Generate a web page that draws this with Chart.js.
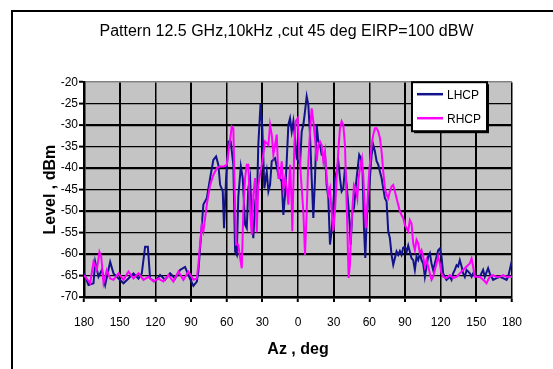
<!DOCTYPE html>
<html>
<head>
<meta charset="utf-8">
<script src="https://cdn.jsdelivr.net/npm/chart.js@4/dist/chart.umd.min.js"></script>
<style>
  html, body { margin: 0; padding: 0; background: #fff; overflow: hidden; }
  #wrap { position: relative; width: 553px; height: 369px; }
  #frame { position: absolute; left: 11px; top: 10px; width: 620px; height: 420px; border: 2px solid #000; box-sizing: border-box; }
  #c { position: absolute; left: 0; top: 0; }
</style>
</head>
<body>
<div id="wrap">
  <div id="frame"></div>
  <canvas id="c" width="553" height="369"></canvas>
</div>
<script>
// Azimuth tick positions (deg) and their printed labels
const azTicks  = [-180, -150, -120, -90, -60, -30, 0, 30, 60, 90, 120, 150, 180];
const azLabels = ['180', '150', '120', '90', '60', '30', '0', '30', '60', '90', '120', '150', '180'];
// Level ticks (dBm)
const levelTicks = [-70, -65, -60, -55, -50, -45, -40, -35, -30, -25, -20];

// LHCP cut: azimuth (deg) and level (dBm)
const lhcpAz = [-180, -176.2, -172.0, -170.6, -167.8, -165.0, -162.2, -158.0, -155.2, -151.0,
  -146.8, -142.6, -138.4, -134.2, -131.4, -128.6, -126.3, -124.4, -120.2, -116.0,
  -111.8, -107.6, -103.4, -99.2, -95.0, -92.2, -88.0, -85.1, -83.8, -80.9,
  -79.6, -76.7, -73.9, -71.2, -68.9, -67.0, -65.5, -63.3, -62.2, -60.5,
  -58.5, -56.6, -54.4, -52.9, -51.5, -50.2, -48.1, -46.5, -44.5, -43.1,
  -41.8, -40.3, -38.9, -37.6, -36.1, -34.7, -33.4, -31.5, -30.0, -28.3,
  -26.3, -24.9, -23.5, -22.1, -19.3, -16.5, -13.7, -12.3, -10.9, -9.5,
  -8.1, -6.7, -5.3, -3.9, -2.5, -1.1, 1.7, 3.1, 4.5, 5.9,
  7.3, 8.7, 10.1, 11.5, 12.9, 14.3, 15.7, 17.1, 18.5, 19.9,
  22.7, 24.1, 25.5, 26.9, 28.3, 29.7, 31.1, 32.5, 33.9, 35.3,
  36.7, 38.1, 39.5, 40.9, 42.3, 43.7, 44.3, 45.7, 47.1, 48.7,
  49.9, 51.5, 52.9, 54.3, 55.5, 56.6, 57.7, 59.1, 60.5, 61.9,
  63.3, 64.7, 66.1, 67.5, 68.9, 70.3, 71.7, 73.1, 74.5, 75.9,
  77.3, 78.7, 80.1, 81.5, 82.9, 84.3, 85.7, 87.1, 88.5, 89.9,
  91.3, 92.7, 94.1, 95.5, 96.9, 98.3, 99.7, 101.1, 102.5, 103.9,
  105.3, 106.7, 108.1, 109.5, 110.9, 112.3, 113.7, 115.1, 116.5, 117.9,
  119.3, 120.7, 122.1, 123.5, 124.9, 127.7, 129.1, 130.5, 131.9, 133.4,
  134.7, 136.1, 137.6, 138.9, 140.3, 141.8, 144.5, 146.0, 147.3, 150.2,
  152.9, 155.7, 157.1, 159.9, 161.3, 164.1, 167.0, 169.7, 172.5, 175.4,
  176.7, 178.1, 180];
const lhcpLevel = [-64.5, -67.2, -66.8, -61.8, -65.3, -63.7, -67.2, -61.8, -64.5, -65.7,
  -66.8, -65.7, -64.5, -65.7, -64.5, -58.3, -58.3, -65.7, -66.4, -64.9,
  -66.0, -64.5, -65.7, -63.7, -63.0, -64.9, -67.4, -66.4, -64.0, -53.2,
  -48.5, -47.0, -42.3, -38.1, -37.3, -39.2, -43.9, -45.4, -54.0, -42.3,
  -33.8, -33.8, -39.2, -59.4, -60.2, -46.6, -39.6, -42.3, -53.2, -54.0,
  -44.7, -42.3, -51.6, -56.3, -48.5, -50.1, -34.6, -25.0, -30.7, -44.7,
  -40.8, -45.4, -43.9, -38.4, -37.7, -41.6, -43.1, -50.9, -46.2, -38.4,
  -29.9, -28.4, -31.5, -29.1, -33.0, -37.7, -39.2, -31.5, -29.9, -26.8,
  -23.3, -25.3, -32.2, -42.3, -51.6, -42.3, -29.9, -33.8, -34.6, -36.9,
  -36.9, -43.9, -47.0, -57.8, -54.7, -48.5, -42.3, -40.8, -38.4, -42.3,
  -45.4, -44.7, -40.0, -43.9, -48.5, -54.0, -57.8, -50.1, -49.3, -43.9,
  -40.8, -36.9, -37.7, -40.8, -54.0, -60.9, -52.4, -47.0, -42.3, -36.9,
  -34.6, -36.1, -38.4, -39.2, -40.8, -42.3, -44.7, -47.0, -47.7, -54.7,
  -56.3, -60.2, -62.5, -60.9, -59.4, -60.2, -59.3, -60.2, -58.5, -58.3,
  -59.5, -58.0, -59.5, -61.0, -61.4, -63.7, -60.6, -61.4, -59.8, -61.4,
  -62.2, -65.3, -62.9, -60.6, -59.8, -62.2, -63.7, -62.2, -60.6, -59.1,
  -58.7, -60.6, -64.5, -65.3, -66.0, -65.3, -66.0, -64.5, -63.7, -62.6,
  -62.9, -61.4, -62.9, -64.5, -65.3, -63.7, -64.5, -65.3, -64.5, -65.3,
  -65.3, -63.7, -65.3, -63.3, -64.5, -66.0, -65.6, -65.3, -65.6, -66.0,
  -65.3, -63.7, -61.4];

// RHCP cut: azimuth (deg) and level (dBm)
const rhcpAz = [-180, -174.8, -172.0, -169.2, -167.0, -165.5, -163.6, -160.8, -158.0, -155.2,
  -151.0, -146.8, -142.6, -138.4, -134.2, -130.0, -125.8, -121.6, -117.4, -113.2,
  -109.0, -104.8, -100.6, -96.4, -92.2, -88.0, -85.1, -83.8, -82.4, -80.9,
  -79.6, -78.1, -76.7, -73.9, -71.2, -68.3, -65.5, -62.2, -59.9, -57.7,
  -55.7, -54.4, -53.5, -52.1, -50.2, -48.7, -47.3, -46.0, -44.5, -43.1,
  -41.8, -40.3, -38.9, -37.6, -36.1, -34.7, -33.4, -30.0, -27.7, -24.9,
  -23.5, -22.1, -20.7, -19.3, -17.9, -16.5, -15.1, -13.7, -12.3, -10.9,
  -9.5, -8.1, -6.7, -5.3, -4.8, -3.1, -1.9, -0.3, 0.8, 2.5,
  4.5, 5.9, 7.3, 8.7, 10.1, 11.5, 12.9, 14.3, 15.7, 17.1,
  18.5, 19.9, 21.3, 22.7, 24.1, 25.5, 26.9, 28.3, 29.7, 31.1,
  32.5, 33.9, 35.3, 36.7, 38.1, 39.5, 40.3, 41.5, 42.6, 43.7,
  44.8, 46.0, 47.1, 48.5, 49.9, 51.0, 52.6, 53.8, 54.9, 56.0,
  57.1, 58.3, 59.9, 61.9, 63.3, 64.7, 66.1, 67.5, 68.9, 70.3,
  71.7, 73.1, 74.5, 75.9, 77.3, 78.7, 80.1, 81.5, 82.9, 84.3,
  85.7, 87.1, 88.5, 89.9, 91.3, 92.7, 94.1, 95.5, 96.9, 98.3,
  99.7, 101.1, 102.5, 103.9, 105.3, 106.7, 108.1, 109.5, 110.9, 112.3,
  113.7, 115.1, 116.5, 117.9, 119.3, 120.7, 122.1, 124.9, 127.7, 130.5,
  133.4, 136.1, 138.9, 141.8, 144.5, 146.0, 147.3, 148.7, 150.2, 152.9,
  155.7, 158.6, 159.9, 161.3, 164.1, 167.0, 169.7, 172.5, 175.4, 178.1,
  180];
const rhcpLevel = [-64.9, -66.8, -61.8, -63.7, -59.5, -60.6, -66.8, -63.7, -65.7, -66.0,
  -64.5, -66.0, -64.1, -65.7, -64.5, -66.0, -65.3, -66.4, -65.7, -66.4,
  -64.9, -66.4, -64.1, -66.0, -64.1, -66.0, -65.7, -62.5, -57.8, -53.2,
  -54.7, -51.6, -48.5, -43.9, -41.6, -40.0, -39.6, -39.6, -39.2, -34.6,
  -30.3, -30.7, -42.3, -57.8, -57.8, -60.9, -63.3, -50.1, -42.3, -39.2,
  -39.2, -50.1, -55.5, -46.2, -42.3, -55.0, -44.0, -38.4, -33.8, -34.6,
  -29.9, -32.2, -36.9, -34.6, -32.2, -42.3, -42.3, -38.4, -44.7, -42.3,
  -44.7, -48.5, -39.2, -48.5, -54.7, -34.6, -29.1, -28.4, -34.6, -42.3,
  -50.1, -60.2, -50.1, -38.4, -31.5, -26.1, -29.1, -33.0, -38.4, -34.6,
  -33.8, -34.6, -38.4, -36.1, -42.3, -46.2, -44.7, -50.1, -54.7, -50.1,
  -42.3, -36.1, -30.7, -29.1, -29.9, -34.6, -42.3, -54.0, -65.6, -62.5,
  -54.0, -48.5, -43.9, -44.7, -47.0, -42.3, -39.2, -37.7, -41.6, -48.5,
  -54.0, -48.5, -40.8, -34.6, -32.2, -30.7, -30.7, -31.5, -33.0, -36.1,
  -40.8, -44.7, -46.2, -47.0, -45.4, -44.3, -43.9, -45.4, -47.0, -48.5,
  -50.1, -50.9, -51.6, -53.2, -54.0, -54.7, -52.1, -52.9, -57.5, -59.1,
  -56.7, -57.5, -59.8, -59.1, -60.6, -62.9, -61.4, -62.9, -64.5, -66.0,
  -65.3, -63.7, -62.2, -60.6, -62.2, -64.5, -65.3, -65.6, -64.9, -65.6,
  -65.3, -64.5, -63.7, -62.9, -62.2, -61.0, -62.9, -65.3, -65.3, -65.3,
  -66.0, -66.8, -66.0, -65.3, -64.9, -65.3, -65.3, -64.9, -65.3, -65.3,
  -65.3];

const toPoints = (xs, ys) => xs.map((x, i) => ({ x, y: ys[i] }));

Chart.defaults.font.family = "'Liberation Sans', Arial, sans-serif";
Chart.defaults.color = '#000';

// Gray plotting area behind the grid
const plotBackground = {
  id: 'plotBackground',
  beforeDraw(chart) {
    const { ctx, chartArea: a } = chart;
    ctx.save();
    ctx.fillStyle = '#c4c4c4';
    ctx.fillRect(a.left, a.top, a.right - a.left, a.bottom - a.top);
    ctx.restore();
  }
};

// Boxed legend in the upper right corner of the plot
const boxLegend = {
  id: 'boxLegend',
  afterDraw(chart) {
    const { ctx, chartArea: a } = chart;
    const w = 75, h = 49;
    const x = a.right - 100, y = a.top;
    ctx.save();
    ctx.fillStyle = '#000';
    ctx.fillRect(x + 2, y + 2, w, h);
    ctx.fillStyle = '#fff';
    ctx.fillRect(x, y, w, h);
    ctx.strokeStyle = '#000';
    ctx.lineWidth = 2;
    ctx.strokeRect(x, y, w, h);
    ctx.font = "12px 'Liberation Sans', Arial, sans-serif";
    ctx.textBaseline = 'middle';
    chart.data.datasets.forEach((ds, i) => {
      const ly = y + 12 + i * 24;
      ctx.strokeStyle = ds.borderColor;
      ctx.lineWidth = 2.5;
      ctx.beginPath();
      ctx.moveTo(x + 5, ly);
      ctx.lineTo(x + 31, ly);
      ctx.stroke();
      ctx.fillStyle = '#000';
      ctx.fillText(ds.label, x + 35, ly + 1);
    });
    ctx.restore();
  }
};

new Chart(document.getElementById('c'), {
  type: 'line',
  data: {
    datasets: [
      { label: 'LHCP', data: toPoints(lhcpAz, lhcpLevel), borderColor: '#12128a', borderWidth: 2, pointRadius: 0, tension: 0, order: 1 },
      { label: 'RHCP', data: toPoints(rhcpAz, rhcpLevel), borderColor: '#ff00ff', borderWidth: 2, pointRadius: 0, tension: 0, order: 0 }
    ]
  },
  options: {
    responsive: false,
    animation: false,
    devicePixelRatio: 1,
    layout: { autoPadding: false, padding: { left: 61, right: 41, top: 0, bottom: 0 } },
    plugins: {
      legend: { display: false },
      tooltip: { enabled: false },
      title: {
        display: true,
        text: 'Pattern 12.5 GHz,10kHz ,cut 45 deg EIRP=100 dBW',
        font: { size: 16, weight: 'normal' },
        color: '#000',
        padding: { top: 22, bottom: 41 }
      }
    },
    scales: {
      x: {
        type: 'linear',
        min: -180,
        max: 180,
        afterBuildTicks: s => { s.ticks = azTicks.map(v => ({ value: v })); },
        afterFit: s => { s.height = 72; },
        ticks: {
          autoSkip: false,
          maxRotation: 0,
          padding: 13,
          font: { size: 12 },
          color: '#000',
          callback: v => azLabels[azTicks.indexOf(v)]
        },
        grid: {
          color: '#000',
          lineWidth: c => (Math.abs(c.tick.value) % 60 === 30 ? 2 : 1.5),
          tickLength: 5,
          tickWidth: 2,
          tickColor: '#000'
        },
        border: { color: '#000', width: 2.5 },
        title: {
          display: true,
          text: 'Az , deg',
          color: '#000',
          font: { size: 16, weight: 'bold' },
          padding: { top: 0, bottom: 9.4 }
        }
      },
      y: {
        type: 'linear',
        min: -70,
        max: -20,
        afterBuildTicks: s => { s.ticks = levelTicks.map(v => ({ value: v })); },
        afterFit: s => { s.width = 23; },
        ticks: {
          padding: 1,
          font: { size: 12 },
          color: '#000',
          callback: v => String(v)
        },
        grid: {
          color: c => (c.tick.value === -20 ? '#808080' : '#000'),
          lineWidth: c => (c.tick.value === -20 ? 1.5 : (c.tick.value % 10 === 0 ? 2.2 : 1.2)),
          tickLength: 5,
          tickWidth: 2,
          tickColor: '#000'
        },
        border: { color: '#000', width: 2.5 },
        title: {
          display: true,
          text: 'Level , dBm',
          color: '#000',
          font: { size: 16, weight: 'bold' },
          padding: { top: -19.6, bottom: 0 }
        }
      }
    }
  },
  plugins: [plotBackground, boxLegend]
});
</script>
</body>
</html>
